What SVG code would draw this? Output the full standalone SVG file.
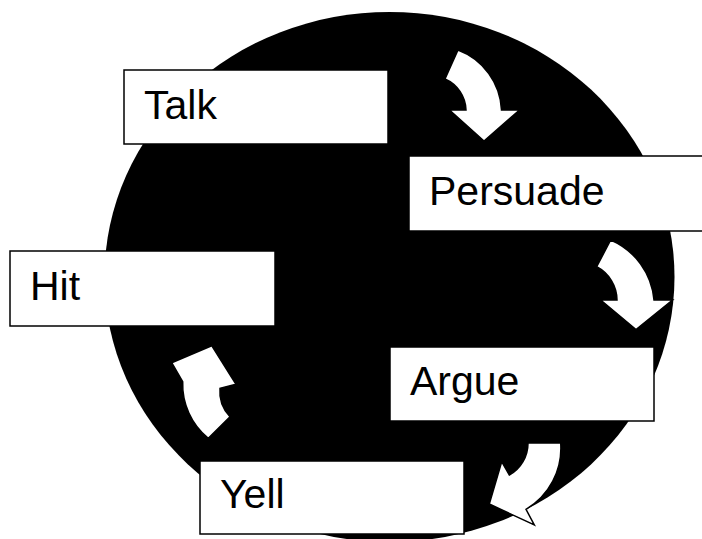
<svg xmlns="http://www.w3.org/2000/svg" width="702" height="539" viewBox="0 0 702 539">
<style>
.box{fill:#fff;stroke:#000;stroke-width:1.5}
.lbl{font-family:"Liberation Sans",Arial,sans-serif;font-size:41px;fill:#000}
.arr{fill:#fff;stroke:#000;stroke-width:1.5;stroke-linejoin:miter}
</style>
<rect width="702" height="539" fill="#fff"/>
<ellipse id="disc" cx="389.5" cy="277" rx="285" ry="265" fill="#000"/>
<g id="connectors">
<path class="arr" d="M458,50 L445,79 A35 35 0 0 1 466,110 L449.5,110 L484,141 L519.5,110 L501.5,110 A67 67 0 0 0 458,50 Z"/>
<path class="arr" d="M610.7,240 L596.7,266.7 A38 38 0 0 1 617,300 L600.7,300 L636,329.5 L672.5,300 L654,300 A72 72 0 0 0 610.7,240 Z"/>
<path class="arr" d="M528,443 L560.7,443 A71 71 0 0 1 526,509.3 L534.3,525 L489.3,504 L501.7,461.7 L509.3,475 A36.5 36.5 0 0 0 528,443 Z"/>
<path class="arr" d="M230,416.7 L208.3,438.3 A70 70 0 0 1 182.7,381.7 L171.7,362.7 L211.7,345.7 L236,384.3 L220,388.3 A36.3 36.3 0 0 0 230,416.7 Z"/>
</g>
<g id="talk"><rect class="box" x="124" y="70" width="264" height="74"/><text class="lbl" x="144" y="119">Talk</text></g>
<g id="persuade"><rect class="box" x="409" y="156" width="300" height="75"/><text class="lbl" x="429" y="205">Persuade</text></g>
<g id="argue"><rect class="box" x="390" y="347" width="264" height="74"/><text class="lbl" x="410" y="395">Argue</text></g>
<g id="hit"><rect class="box" x="10" y="251" width="265" height="75"/><text class="lbl" x="30" y="300">Hit</text></g>
<g id="yell"><rect class="box" x="200" y="461" width="264" height="73"/><text class="lbl" x="220" y="508">Yell</text></g>
</svg>
